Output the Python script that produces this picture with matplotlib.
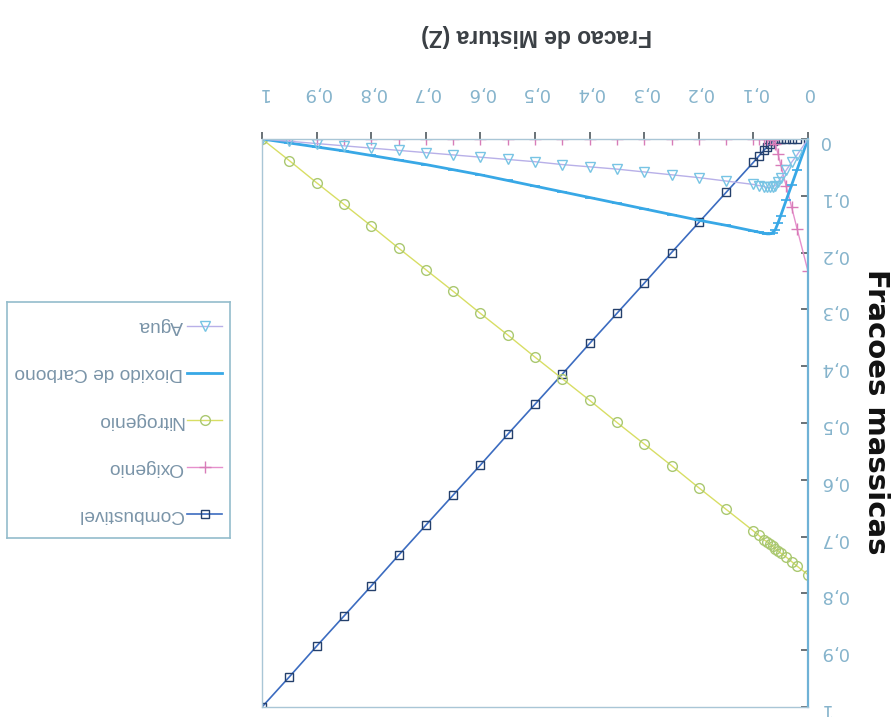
import matplotlib
matplotlib.use("Agg")
import matplotlib.pyplot as plt
from matplotlib.lines import Line2D

# Mixture fraction grid
z = [0, 0.02, 0.03, 0.04, 0.05, 0.055, 0.06, 0.065, 0.07, 0.075, 0.08, 0.09,
     0.1, 0.15, 0.2, 0.25, 0.3, 0.35, 0.4, 0.45, 0.5, 0.55, 0.6, 0.65, 0.7,
     0.75, 0.8, 0.85, 0.9, 0.95, 1.0]

combustivel = [0, 0, 0, 0, 0, 0, 0.002, 0.004, 0.009, 0.014, 0.019, 0.030,
               0.041, 0.094, 0.147, 0.200, 0.254, 0.307, 0.360, 0.414, 0.467,
               0.520, 0.574, 0.627, 0.680, 0.733, 0.787, 0.840, 0.893, 0.947, 1.0]

oxigenio = [0.233, 0.158, 0.120, 0.083, 0.045, 0.026, 0.008, 0.002, 0, 0, 0, 0,
            0, 0, 0, 0, 0, 0, 0, 0, 0, 0, 0, 0, 0, 0, 0, 0, 0, 0, 0]

nitrogenio = [0.767, 0.752, 0.744, 0.736, 0.729, 0.725, 0.721, 0.717, 0.713,
              0.709, 0.706, 0.698, 0.690, 0.652, 0.614, 0.575, 0.537, 0.499,
              0.460, 0.422, 0.384, 0.345, 0.307, 0.268, 0.230, 0.192, 0.153,
              0.115, 0.077, 0.038, 0.0]

dioxido = [0, 0.054, 0.081, 0.108, 0.135, 0.148, 0.160, 0.165, 0.167, 0.167,
           0.166, 0.164, 0.162, 0.152, 0.143, 0.133, 0.123, 0.113, 0.103,
           0.093, 0.083, 0.073, 0.063, 0.054, 0.045, 0.037, 0.029, 0.021,
           0.014, 0.007, 0.0]

agua = [0, 0.028, 0.041, 0.055, 0.069, 0.076, 0.082, 0.084, 0.085, 0.085,
        0.084, 0.082, 0.080, 0.074, 0.068, 0.063, 0.058, 0.053, 0.049, 0.045,
        0.040, 0.036, 0.032, 0.028, 0.024, 0.020, 0.016, 0.012, 0.008, 0.004, 0.0]

x_ticks = [0, 0.1, 0.2, 0.3, 0.4, 0.5, 0.6, 0.7, 0.8, 0.9, 1.0]
tick_labels = ["0", "0,1", "0,2", "0,3", "0,4", "0,5", "0,6", "0,7", "0,8", "0,9", "1"]

series = [
    ("Agua", agua, dict(color="#b8b0e8", lw=1.0, marker="v", ms=7, mfc="none",
                        mec="#78c4e4", mew=1.0)),
    ("Dioxido de Carbono", dioxido, dict(color="#38a8e6", lw=2.0, marker="_", ms=7,
                                         mec="#38a8e6", mew=1.2)),
    ("Nitrogenio", nitrogenio, dict(color="#d8de64", lw=1.0, marker="o", ms=7,
                                    mfc="none", mec="#aac870", mew=1.0)),
    ("Oxigenio", oxigenio, dict(color="#e690cc", lw=1.0, marker="+", ms=8,
                                mec="#d87cb8", mew=1.0)),
    ("Combustivel", combustivel, dict(color="#3c6cc0", lw=1.2, marker="s", ms=6,
                                      mfc="none", mec="#24406c", mew=1.0)),
]

W, H = 893, 717
fig = plt.figure(figsize=(W / 100, H / 100), dpi=100)
fig.patch.set_facecolor("white")

ax = fig.add_axes([262 / W, 10 / H, 546 / W, 568 / H])
for name, vals, st in reversed(series):
    ax.plot(z, vals, label=name, **st)

# Axes are drawn turned half a revolution: Z grows to the left, Y downward
ax.set_xlim(1, 0)
ax.set_ylim(1, 0)
ax.xaxis.tick_top()
ax.yaxis.tick_right()
ax.set_xticks(x_ticks)
ax.set_yticks(x_ticks)
tick_font = dict(family=["Liberation Sans Narrow", "DejaVu Sans"], size=13)
ax.set_xticklabels(tick_labels, rotation=180, color="#86b4cc", **tick_font)
ax.set_yticklabels(tick_labels, rotation=180, color="#86b4cc", **tick_font)
ax.tick_params(axis="x", direction="out", length=5, width=1.2, color="#505a60", pad=22)
ax.tick_params(axis="y", direction="in", length=5, width=1.2, color="#505a60", pad=8)

for side in ["left", "top", "bottom"]:
    ax.spines[side].set_color("#a9c6d6")
    ax.spines[side].set_linewidth(1.0)
ax.spines["right"].set_color("#6fb2d6")
ax.spines["right"].set_linewidth(1.6)

fig.text(537 / W, 1 - 36 / H, "Fracao de Mistura (Z)", rotation=180,
         ha="center", va="center", fontsize=16.5, fontweight="bold", color="#3a3f44",
         family=["Liberation Sans", "DejaVu Sans"])
fig.text(876 / W, 1 - 412 / H, "Fracoes massicas", rotation=-90,
         ha="center", va="center", fontsize=21, fontweight="bold", color="#111111",
         family=["DejaVu Sans"])

# Legend box, also turned half a revolution
lax = fig.add_axes([7 / W, (H - 538) / H, 223 / W, 236 / H])
lax.set_xlim(0, 1)
lax.set_ylim(0, 1)
lax.set_xticks([])
lax.set_yticks([])
for sp in lax.spines.values():
    sp.set_color("#94bccc")
    sp.set_linewidth(1.2)
n = len(series)
for i, (name, vals, st) in enumerate(series):
    y = 1 - (i + 0.5) / n
    lax.add_line(Line2D([0.807, 0.964], [y, y], markevery=[], **st))
    lax.plot([0.886], [y], linestyle="none",
             **{k: v for k, v in st.items() if k not in ("color", "lw")},
             color=st["color"])
    lax.text(0.789, y, name, rotation=180, rotation_mode="anchor",
             ha="left", va="center", fontsize=13.8, color="#7a94a8",
             family=["Liberation Sans", "DejaVu Sans"])

fig.savefig("out.png", dpi=100, facecolor="white")
